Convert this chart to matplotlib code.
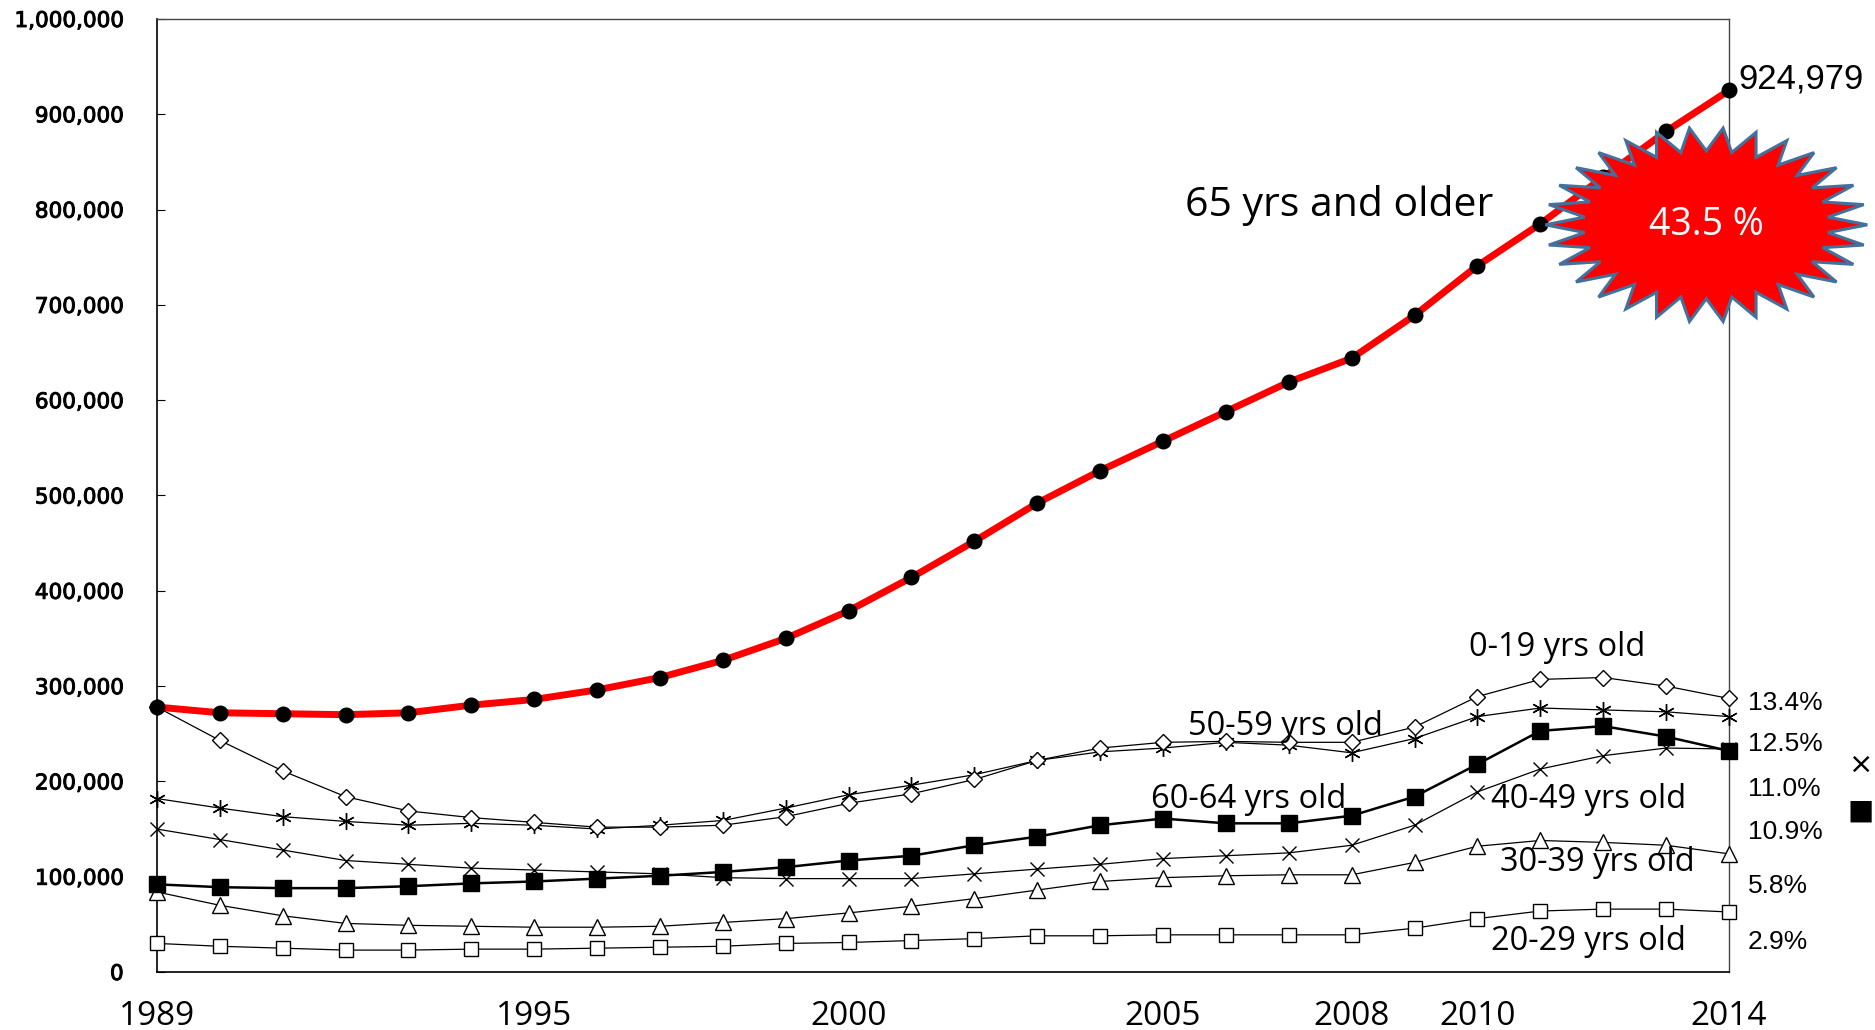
import numpy as np
import matplotlib
matplotlib.use("Agg")
import matplotlib.pyplot as plt
import matplotlib.patheffects as pe
from matplotlib.patches import Polygon

# Population by age group, 1989-2014
years = list(range(1989, 2015))

age_65_over = [278000, 272000, 271000, 270000, 272000, 280000, 286000, 296000, 309000, 327000,
               350000, 379000, 414000, 452000, 492000, 526000, 557000, 588000, 619000, 644000,
               689000, 741000, 785000, 834000, 882000, 924979]
age_0_19 = [278000, 243000, 211000, 184000, 169000, 162000, 157000, 152000, 152000, 154000,
            163000, 177000, 187000, 202000, 222000, 235000, 241000, 242000, 241000, 241000,
            257000, 289000, 307000, 309000, 300000, 287000]
age_50_59 = [182000, 172000, 163000, 158000, 154000, 156000, 154000, 150000, 154000, 159000,
             172000, 186000, 196000, 207000, 222000, 231000, 235000, 241000, 238000, 230000,
             245000, 268000, 277000, 275000, 273000, 268000]
age_40_49 = [150000, 139000, 128000, 117000, 113000, 109000, 107000, 105000, 103000, 99000,
             98000, 98000, 98000, 103000, 108000, 113000, 119000, 122000, 125000, 133000,
             154000, 189000, 213000, 227000, 235000, 234000]
age_60_64 = [92000, 89000, 88000, 88000, 90000, 93000, 95000, 98000, 101000, 105000,
             110000, 117000, 122000, 133000, 142000, 154000, 161000, 156000, 156000, 164000,
             184000, 218000, 253000, 258000, 247000, 232000]
age_30_39 = [84000, 70000, 59000, 51000, 49000, 48000, 47000, 47000, 48000, 52000,
             56000, 62000, 69000, 77000, 86000, 95000, 99000, 101000, 102000, 102000,
             115000, 132000, 138000, 136000, 133000, 124000]
age_20_29 = [30000, 27000, 25000, 23000, 23000, 24000, 24000, 25000, 26000, 27000,
             30000, 31000, 33000, 35000, 38000, 38000, 39000, 39000, 39000, 39000,
             46000, 56000, 64000, 66000, 66000, 63000]

x_ticks = [1989, 1995, 2000, 2005, 2008, 2010, 2014]
y_ticks = list(range(0, 1000001, 100000))

share_65_over = "43.5 %"
share_labels = ["13.4%", "12.5%", "11.0%", "10.9%", "5.8%", "2.9%"]

fig = plt.figure(figsize=(18.75, 10.3), dpi=100)
ax = fig.add_axes([0.0837, 0.0563, 0.8384, 0.9253])

thin = dict(color="black", linewidth=0.9, markerfacecolor="white",
            markeredgecolor="black", markeredgewidth=1.0, clip_on=False)

ax.plot(years, age_20_29, marker="s", markersize=10, zorder=3, **thin)
ax.plot(years, age_30_39, marker="^", markersize=11, zorder=3, **thin)
ax.plot(years, age_40_49, marker="x", markersize=10, zorder=3, **thin)
ax.plot(years, age_50_59, marker=(6, 2, 0), markersize=12, zorder=3, **thin)
ax.plot(years, age_0_19, marker="D", markersize=8, zorder=3, **thin)
ax.plot(years, age_60_64, color="black", linewidth=1.8, marker="s", markersize=11,
        markerfacecolor="black", markeredgecolor="black", zorder=4, clip_on=False)
ax.plot(years, age_65_over, color="red", linewidth=5.0, marker="o", markersize=10.5,
        markerfacecolor="black", markeredgecolor="black", zorder=5, clip_on=False)

ax.set_xlim(1989, 2014)
ax.set_ylim(0, 1000000)
ax.set_xticks(x_ticks)
ax.set_xticklabels([str(y) for y in x_ticks], fontfamily="Open Sans", fontsize=24)
ax.set_yticks(y_ticks)
ylabels = ax.set_yticklabels([f"{v:,}" for v in y_ticks], fontfamily="DejaVu Sans",
                             fontsize=15.5)
for t in ylabels:
    # slightly heavier strokes for the value axis
    t.set_path_effects([pe.withStroke(linewidth=0.7, foreground="black")])
ax.tick_params(axis="y", direction="in", length=6, width=0.8, pad=24)
ax.tick_params(axis="x", length=0, pad=20)

for side in ["left", "bottom"]:
    ax.spines[side].set_color("black")
    ax.spines[side].set_linewidth(1.2)
for side in ["top", "right"]:
    ax.spines[side].set_color("#444444")
    ax.spines[side].set_linewidth(1.0)

# value of the last point
ax.annotate(f"{age_65_over[-1]:,}", xy=(years[-1], age_65_over[-1]), xytext=(7, 8),
            textcoords="offset points", ha="left", va="center",
            fontfamily=["Liberation Sans Narrow", "Liberation Sans"], fontsize=25)

ax.text(2007.8, 804000, "65 yrs and older", fontfamily="Open Sans", fontsize=29.5,
        ha="center", va="center", zorder=6)

# starburst behind the share of 65+
cx, cy, rx, ry = 2013.64, 784000, 2.56, 102000
n_spikes = 30
ang = np.linspace(0, 2 * np.pi, 2 * n_spikes, endpoint=False)
rad = np.where(np.arange(2 * n_spikes) % 2 == 0, 1.0, 0.76)
star = Polygon(np.column_stack([cx + rx * rad * np.cos(ang), cy + ry * rad * np.sin(ang)]),
               closed=True, facecolor="red", edgecolor="#41719C", linewidth=2.2,
               zorder=7, clip_on=False)
ax.add_patch(star)
ax.text(cx, cy, share_65_over, color="white", fontfamily="Open Sans", fontsize=27,
        ha="center", va="center", zorder=8)

# age group labels
group_labels = ["0-19 yrs old", "50-59 yrs old", "60-64 yrs old",
                "40-49 yrs old", "30-39 yrs old", "20-29 yrs old"]
group_pos = [(2011.26, 340000), (2006.95, 258000), (2006.36, 181000),
             (2011.76, 181000), (2011.91, 114500), (2011.76, 31500)]
for lab, (gx, gy) in zip(group_labels, group_pos):
    ax.text(gx, gy, lab, fontfamily="Open Sans", fontsize=23.5,
            ha="center", va="center", zorder=6)

# shares of 2014 total along the right edge
share_y = [282000, 239600, 192000, 146800, 90300, 31400]
for lab, sy in zip(share_labels, share_y):
    ax.text(2014.3, sy, lab, fontfamily=["Liberation Sans Narrow", "Liberation Sans"],
            fontsize=19, ha="left", va="center", clip_on=False)

fig.text(0.9925, 1 - 765 / 1030, "×", fontsize=21, ha="center", va="center",
         fontfamily="DejaVu Sans")
fig.text(0.9925, 1 - 811 / 1030, "■", fontsize=20, ha="center", va="center",
         fontfamily="DejaVu Sans")

fig.savefig("out.png", dpi=100)
